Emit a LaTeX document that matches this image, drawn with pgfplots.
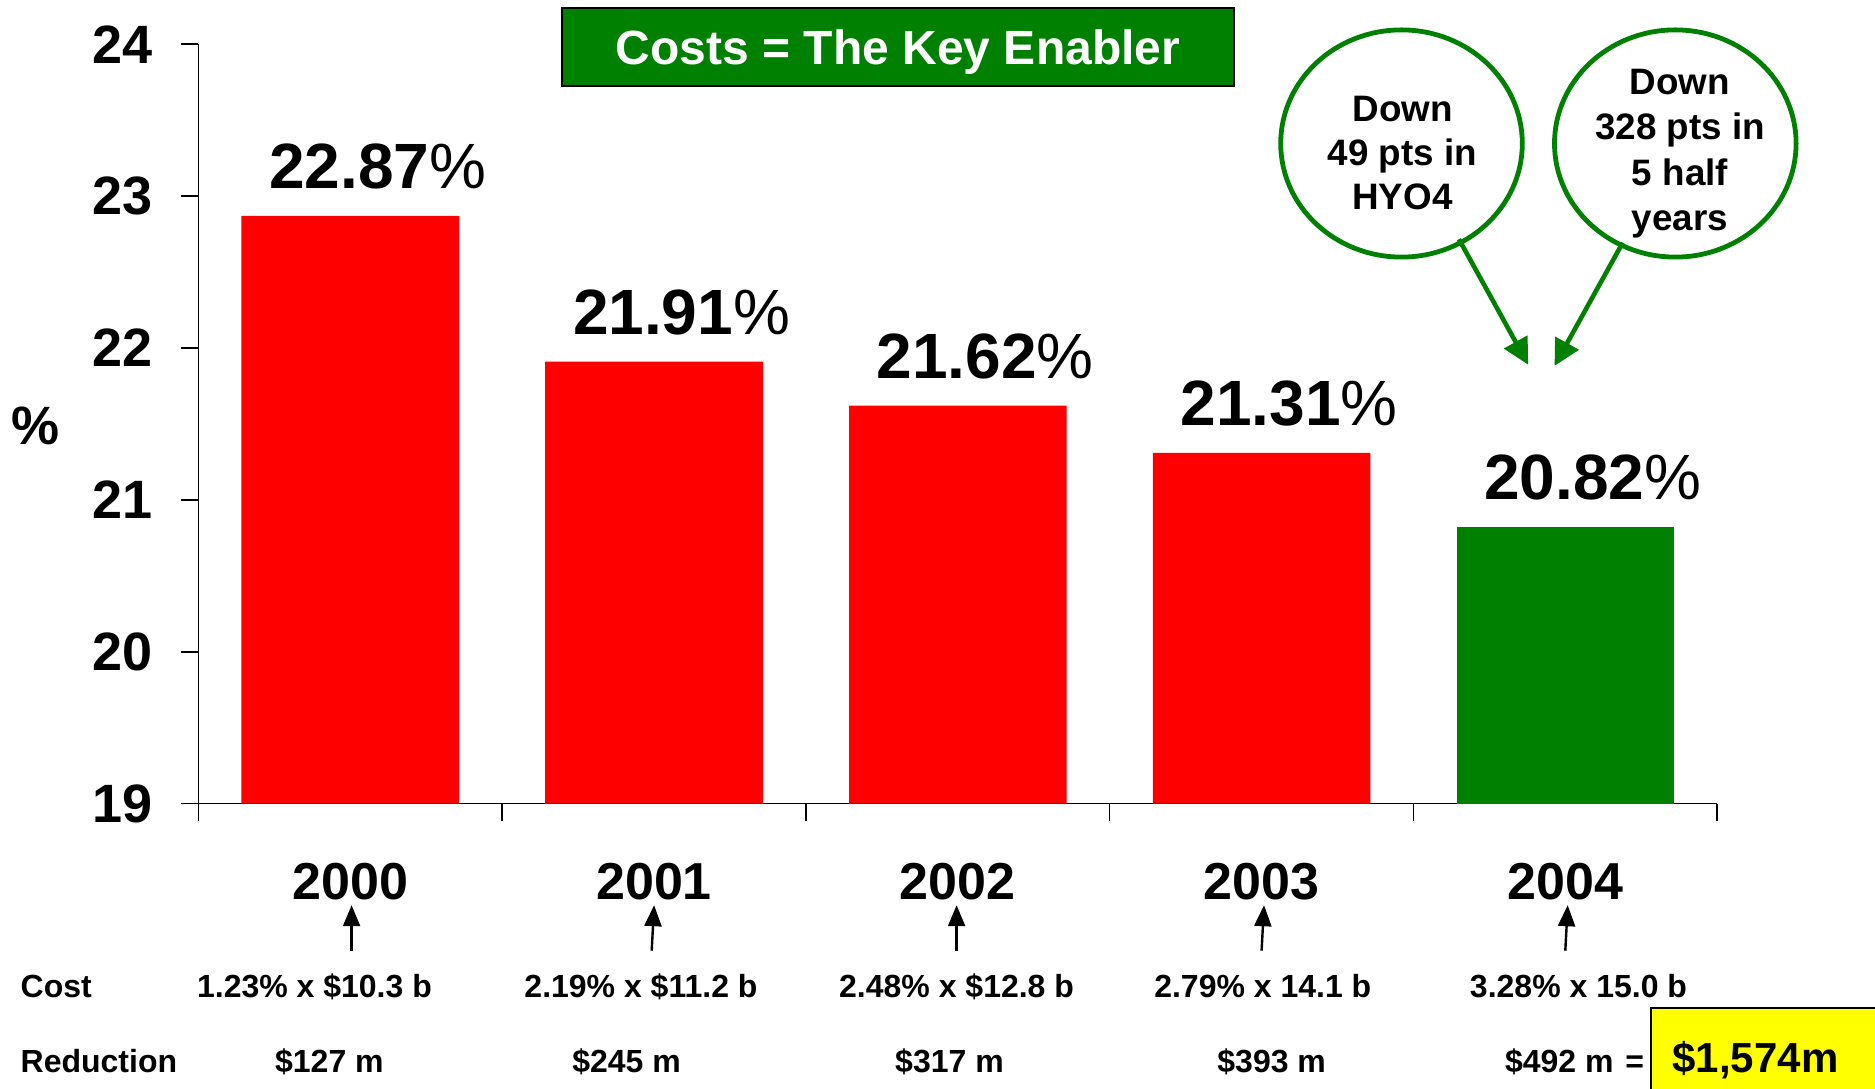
\documentclass[border=0pt]{standalone}
\usepackage{pgfplots}
\pgfplotsset{compat=1.18}
\usepackage{fontspec}
\setmainfont{Liberation Sans}
\usetikzlibrary{arrows.meta}
\definecolor{myred}{RGB}{255,0,0}
\definecolor{mygreen}{RGB}{0,128,0}
\definecolor{myyellow}{RGB}{255,255,0}
\begin{document}
\begin{tikzpicture}
\path[use as bounding box] (0pt,0pt) rectangle (937.5pt,544pt);
\begin{axis}[
  at={(99.2pt,142.2pt)}, anchor=south west,
  scale only axis, width=759.4pt, height=379.7pt,
  xmin=-0.5, xmax=4.5, ymin=19, ymax=24,
  axis x line*=bottom, axis y line*=left,
  ybar, bar width=108.8pt, bar shift=0pt,
  xtick={0,1,2,3,4}, xticklabels={2000,2001,2002,2003,2004},
  minor xtick={-0.5,0.5,1.5,2.5,3.5,4.5},
  ytick={19,20,21,22,23,24},
  tick align=outside,
  major tick length=8.5pt, minor tick length=8.5pt,
  major x tick style={draw=none},
  tick style={black, line width=0.8pt},
  axis line style={black, line width=0.8pt},
  /pgf/number format/assume math mode=true,
  ticklabel style={font=\fontsize{27}{27}\selectfont\bfseries},
  xticklabel style={font=\fontsize{26}{26}\selectfont\bfseries, anchor=base, inner sep=0pt, yshift=-39.5pt},
  yticklabel style={anchor=east, inner sep=0pt, xshift=-14pt},
  point meta=explicit symbolic,
  nodes near coords={\pgfplotspointmeta{\mdseries\%}},
  every node near coord/.append style={font=\fontsize{32}{32}\selectfont\bfseries, anchor=base, inner sep=0pt, xshift=13.75pt, yshift=13.75pt, text=black},
]
\addplot[fill=myred, draw=none] coordinates {(0,22.87) [22.87] (1,21.91) [21.91] (2,21.62) [21.62] (3,21.31) [21.31]};
\addplot[fill=mygreen, draw=none] coordinates {(4,20.82) [20.82]};
\end{axis}
\begin{scope}[x=0.5pt,y=0.5pt]
% y label
\node[font=\fontsize{27}{27}\selectfont\bfseries] at (35.9,662.3) {\%};
% title box
\draw[fill=mygreen, draw=black, line width=1pt] (562,1079.6) rectangle (1234,1001.9);
\node[anchor=base, text=white, font=\fontsize{24}{24}\selectfont\bfseries, inner sep=0pt] at (898,1023) {Costs = The Key Enabler};
% circles
\draw[mygreen, line width=2.4pt] (1401.5,944.5) ellipse [x radius=60.4pt, y radius=56.8pt];
\draw[mygreen, line width=2.4pt] (1675.3,944.5) ellipse [x radius=60.4pt, y radius=56.8pt];
\node[align=center, font=\fontsize{18.4}{22}\selectfont\bfseries, inner sep=0pt] at (1402.5,935) {Down\\49 pts in\\HYO4};
\node[align=center, font=\fontsize{18.4}{22.8}\selectfont\bfseries, inner sep=0pt] at (1680,934.3) {Down\\328 pts in\\5 half\\years};
\draw[mygreen, line width=2.3pt, -{Triangle[length=13pt, width=13pt]}] (1458.9,848.8) -- (1528.2,723.3);
\draw[mygreen, line width=2.3pt, -{Triangle[length=13pt, width=13pt]}] (1622.7,845.3) -- (1554.5,722.1);
% black arrows
\foreach \xa/\xb in {351.6/351.6, 651.7/654.1, 956.6/956.6, 1261.6/1264, 1565.3/1567.7}
  \draw[line width=1.2pt, -{Triangle[length=10.5pt, width=8.5pt]}] (\xa,137.3) -- (\xb,182.8);
% rows
\begin{scope}[every node/.style={font=\fontsize{16}{16}\selectfont\bfseries, inner sep=0pt}]
\node[anchor=base west] at (20.3,90.7) {Cost};
\node[anchor=base west] at (20.3,15.4) {Reduction};
\node[anchor=base] at (314.5,90.7) {1.23\% x \$10.3 b};
\node[anchor=base] at (641,90.7) {2.19\% x \$11.2 b};
\node[anchor=base] at (956.6,90.7) {2.48\% x \$12.8 b};
\node[anchor=base] at (1262.8,90.7) {2.79\% x 14.1 b};
\node[anchor=base] at (1578.5,90.7) {3.28\% x 15.0 b};
\node[anchor=base] at (329.4,15.4) {\$127 m};
\node[anchor=base] at (626.6,15.4) {\$245 m};
\node[anchor=base] at (949.5,15.4) {\$317 m};
\node[anchor=base] at (1271.7,15.4) {\$393 m};
\node[anchor=base] at (1559.3,15.4) {\$492 m};
\node[anchor=base] at (1634.7,15.4) {=};
\end{scope}
\draw[fill=myyellow, line width=1pt] (1651.4,80) rectangle (1885,-10);
\node[anchor=base, inner sep=0pt, font=\fontsize{21}{21}\selectfont\bfseries] at (1755.5,16) {\$1,574m};
\end{scope}
\end{tikzpicture}
\end{document}
